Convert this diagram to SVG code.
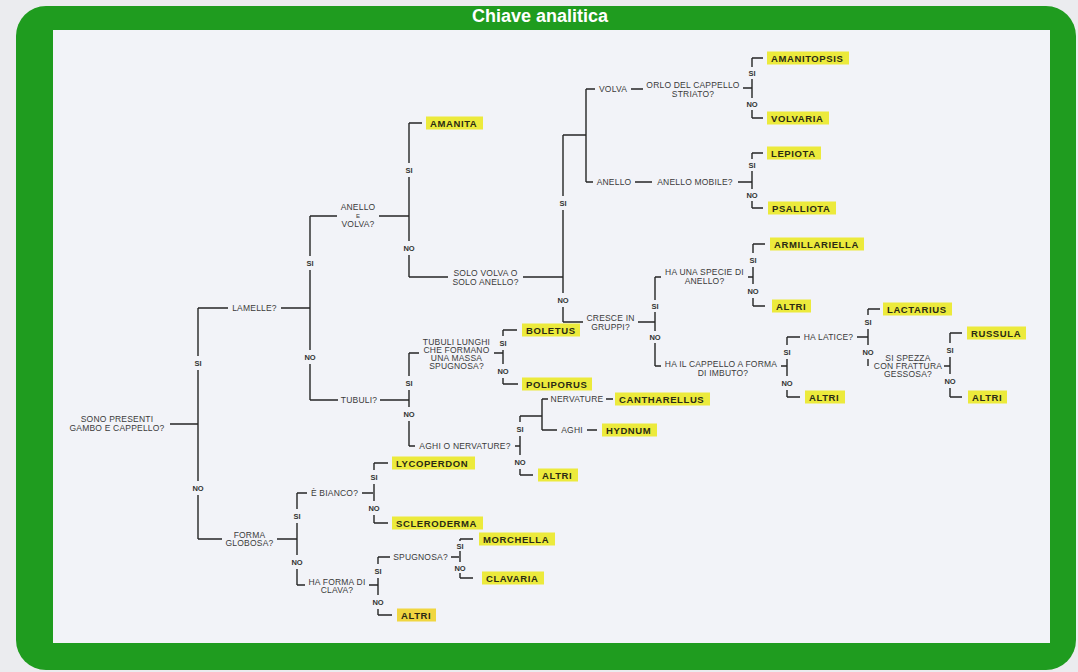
<svg xmlns="http://www.w3.org/2000/svg" width="1078" height="672" viewBox="0 0 1078 672">
<style>
.ln{fill:none;stroke:#262626;stroke-width:1.4}
.q{font-family:"Liberation Sans",Arial,sans-serif;font-size:8.5px;fill:#3a3a3a;letter-spacing:0.2px;text-anchor:middle}
.qs{font-size:6px}
.lb{font-family:"Liberation Sans",Arial,sans-serif;font-size:7.5px;font-weight:bold;fill:#333;text-anchor:middle}
.lf{font-family:"Liberation Sans",Arial,sans-serif;font-size:9.5px;font-weight:bold;fill:#2a2a14;letter-spacing:0.6px}
.hl{fill:#ecea3c}
.hl2{fill:#f0d640}
.title{font-family:"Liberation Sans",Arial,sans-serif;font-size:18px;font-weight:bold;fill:#ffffff;text-anchor:middle}
</style>
<rect x="0" y="0" width="1078" height="672" fill="#ebecef"/>
<rect x="16" y="6" width="1060" height="664" rx="30" fill="#1f9c1f"/>
<rect x="53" y="30" width="997" height="613" fill="#f2f3f8"/>
<text class="title" x="540" y="22">Chiave analitica</text>

<g id="connectors" class="ln">
<path d="M170 424H198 M198 308V356 M198 370V481 M198 495V539"/>
<path d="M198 308H228 M281 308H310 M310 216V256 M310 270V350 M310 364V400"/>
<path d="M310 216H337 M379 216H409 M409 123V163 M409 177V241 M409 255V277 M409 123H422"/>
<path d="M409 277H448 M523 277H563 M563 135V196 M563 210V293 M563 307V322 M563 135H586 M586 89V182"/>
<path d="M586 89H595 M631 89H643 M743 88H752 M752 58V67 M752 79V98 M752 110V118 M752 58H763 M752 118H763"/>
<path d="M586 182H593 M635 182H652 M738 182H752 M752 153V159 M752 171V189 M752 201V208 M752 153H763 M752 208H763"/>
<path d="M563 322H583 M638 322H655 M655 277V300 M655 312V331 M655 343V366"/>
<path d="M655 277H661 M748 277H753 M753 244V253 M753 267V284 M753 298V306 M753 244H765 M753 306H765"/>
<path d="M655 366H661 M781 366H787 M787 337V345 M787 359V376 M787 390V397 M787 397H800"/>
<path d="M787 337H800 M857 337H868 M868 309V315 M868 329V345 M868 359V366 M868 309H880"/>
<path d="M944 366H950 M950 333V343 M950 357V374 M950 388V397 M950 333H962 M950 397H962"/>
<path d="M310 400H338 M380 400H409 M409 353V376 M409 390V407 M409 421V446"/>
<path d="M409 353H419 M494 353H503 M503 330V336 M503 350V364 M503 378V384 M503 330H517 M503 384H518"/>
<path d="M409 446H415 M515 446H520 M520 416V422 M520 436V455 M520 469V475 M520 475H533"/>
<path d="M520 416H542 M542 399V430 M542 399H548 M606 399H613 M542 430H557 M587 430H597"/>
<path d="M198 539H222 M277 539H297 M297 493V509 M297 523V555 M297 569V585"/>
<path d="M297 493H307 M362 493H373 M374 463V470 M374 484V501 M374 515V523 M374 463H388 M374 523H388"/>
<path d="M297 585H305 M369 585H378 M378 557V564 M378 578V595 M378 609V615 M378 615H392"/>
<path d="M378 557H390 M451 557H459 M460 539V541 M460 551V562 M460 573V578 M460 539H473 M460 578H473"/>
</g>

<g id="edge-labels" class="lb">
<text x="198" y="365.7">SI</text><text x="198" y="490.7">NO</text>
<text x="310" y="265.7">SI</text><text x="310" y="359.7">NO</text>
<text x="409" y="172.7">SI</text><text x="409" y="250.7">NO</text>
<text x="563" y="205.7">SI</text><text x="563" y="302.7">NO</text>
<text x="752" y="75.7">SI</text><text x="752" y="106.7">NO</text>
<text x="752" y="167.7">SI</text><text x="752" y="197.7">NO</text>
<text x="655" y="308.7">SI</text><text x="655" y="339.7">NO</text>
<text x="753" y="262.7">SI</text><text x="753" y="293.7">NO</text>
<text x="787" y="354.7">SI</text><text x="787" y="385.7">NO</text>
<text x="868" y="324.7">SI</text><text x="868" y="354.7">NO</text>
<text x="950" y="352.7">SI</text><text x="950" y="383.7">NO</text>
<text x="409" y="385.7">SI</text><text x="409" y="416.7">NO</text>
<text x="503" y="345.7">SI</text><text x="503" y="373.7">NO</text>
<text x="520" y="431.7">SI</text><text x="520" y="464.7">NO</text>
<text x="297" y="518.7">SI</text><text x="297" y="564.7">NO</text>
<text x="374" y="479.7">SI</text><text x="374" y="510.7">NO</text>
<text x="378" y="573.7">SI</text><text x="378" y="604.7">NO</text>
<text x="460" y="548.7">SI</text><text x="460" y="570.7">NO</text>
</g>

<g id="q-root" class="q"><text x="117" y="422">SONO PRESENTI</text><text x="117" y="431">GAMBO E CAPPELLO?</text></g>
<g id="q-lamelle" class="q"><text x="254.5" y="311">LAMELLE?</text></g>
<g id="q-anello-volva" class="q"><text x="358" y="209.5">ANELLO</text><text class="qs" x="358" y="217.5">E</text><text x="358" y="227">VOLVA?</text></g>
<g id="q-solo" class="q"><text x="485.5" y="276">SOLO VOLVA O</text><text x="485.5" y="285">SOLO ANELLO?</text></g>
<g id="q-volva" class="q"><text x="613" y="92">VOLVA</text></g>
<g id="q-orlo" class="q"><text x="693" y="88">ORLO DEL CAPPELLO</text><text x="693" y="96.5">STRIATO?</text></g>
<g id="q-anello" class="q"><text x="614" y="185">ANELLO</text></g>
<g id="q-mobile" class="q"><text x="695" y="185">ANELLO MOBILE?</text></g>
<g id="q-cresce" class="q"><text x="610.5" y="321">CRESCE IN</text><text x="610.5" y="330">GRUPPI?</text></g>
<g id="q-specie" class="q"><text x="704.5" y="275">HA UNA SPECIE DI</text><text x="704.5" y="284">ANELLO?</text></g>
<g id="q-imbuto" class="q"><text x="721" y="367">HA IL CAPPELLO A FORMA</text><text x="723" y="376">DI IMBUTO?</text></g>
<g id="q-latice" class="q"><text x="828.5" y="340">HA LATICE?</text></g>
<g id="q-spezza" class="q"><text x="908" y="361">SI SPEZZA</text><text x="908" y="369">CON FRATTURA</text><text x="908" y="377">GESSOSA?</text></g>
<g id="q-tubuli" class="q"><text x="359" y="403">TUBULI?</text></g>
<g id="q-tubuli-lunghi" class="q"><text x="456.5" y="345">TUBULI LUNGHI</text><text x="456.5" y="353">CHE FORMANO</text><text x="456.5" y="361">UNA MASSA</text><text x="456.5" y="369">SPUGNOSA?</text></g>
<g id="q-aghi-nervature" class="q"><text x="465" y="449">AGHI O NERVATURE?</text></g>
<g id="q-nervature" class="q"><text x="577" y="402">NERVATURE</text></g>
<g id="q-aghi" class="q"><text x="572" y="433">AGHI</text></g>
<g id="q-globosa" class="q"><text x="249.5" y="538">FORMA</text><text x="249.5" y="546">GLOBOSA?</text></g>
<g id="q-bianco" class="q"><text x="334.5" y="496">È BIANCO?</text></g>
<g id="q-clava" class="q"><text x="337" y="585">HA FORMA DI</text><text x="337" y="593">CLAVA?</text></g>
<g id="q-spugnosa" class="q"><text x="420.5" y="560">SPUGNOSA?</text></g>

<g id="leaf-amanita"><rect class="hl" x="426" y="116.5" width="57" height="13"/><text class="lf" x="430" y="126.6">AMANITA</text></g>
<g id="leaf-amanitopsis"><rect class="hl" x="767" y="51.5" width="82" height="13"/><text class="lf" x="771" y="61.6">AMANITOPSIS</text></g>
<g id="leaf-volvaria"><rect class="hl" x="767" y="111.5" width="62" height="13"/><text class="lf" x="771" y="121.6">VOLVARIA</text></g>
<g id="leaf-lepiota"><rect class="hl" x="767" y="146.5" width="54" height="13"/><text class="lf" x="771" y="156.6">LEPIOTA</text></g>
<g id="leaf-psalliota"><rect class="hl" x="768" y="201.5" width="68" height="13"/><text class="lf" x="772" y="211.6">PSALLIOTA</text></g>
<g id="leaf-armillariella"><rect class="hl" x="770" y="237.5" width="94" height="13"/><text class="lf" x="774" y="247.6">ARMILLARIELLA</text></g>
<g id="leaf-altri-1"><rect class="hl" x="772" y="299.5" width="39" height="13"/><text class="lf" x="776" y="309.6">ALTRI</text></g>
<g id="leaf-lactarius"><rect class="hl" x="883" y="302.5" width="69" height="13"/><text class="lf" x="887" y="312.6">LACTARIUS</text></g>
<g id="leaf-russula"><rect class="hl" x="967" y="326.5" width="59" height="13"/><text class="lf" x="971" y="336.6">RUSSULA</text></g>
<g id="leaf-altri-2"><rect class="hl" x="968" y="390.5" width="39" height="13"/><text class="lf" x="972" y="400.6">ALTRI</text></g>
<g id="leaf-altri-3"><rect class="hl" x="805" y="390.5" width="40" height="13"/><text class="lf" x="809" y="400.6">ALTRI</text></g>
<g id="leaf-boletus"><rect class="hl" x="522" y="323.5" width="58" height="13"/><text class="lf" x="526" y="333.6">BOLETUS</text></g>
<g id="leaf-poliporus"><rect class="hl" x="522" y="377.5" width="70" height="13"/><text class="lf" x="526" y="387.6">POLIPORUS</text></g>
<g id="leaf-cantharellus"><rect class="hl" x="615" y="392.5" width="95" height="13"/><text class="lf" x="619" y="402.6">CANTHARELLUS</text></g>
<g id="leaf-hydnum"><rect class="hl" x="602" y="423.5" width="55" height="13"/><text class="lf" x="606" y="433.6">HYDNUM</text></g>
<g id="leaf-altri-4"><rect class="hl" x="538" y="468.5" width="40" height="13"/><text class="lf" x="542" y="478.6">ALTRI</text></g>
<g id="leaf-lycoperdon"><rect class="hl" x="392" y="456.5" width="83" height="13"/><text class="lf" x="396" y="466.6">LYCOPERDON</text></g>
<g id="leaf-scleroderma"><rect class="hl" x="392" y="516.5" width="91" height="13"/><text class="lf" x="396" y="526.6">SCLERODERMA</text></g>
<g id="leaf-morchella"><rect class="hl" x="479" y="532.5" width="76" height="13"/><text class="lf" x="483" y="542.6">MORCHELLA</text></g>
<g id="leaf-clavaria"><rect class="hl" x="482" y="571.5" width="62" height="13"/><text class="lf" x="486" y="581.6">CLAVARIA</text></g>
<g id="leaf-altri-5"><rect class="hl2" x="397" y="608.5" width="39" height="13"/><text class="lf" x="401" y="618.6">ALTRI</text></g>
</svg>
